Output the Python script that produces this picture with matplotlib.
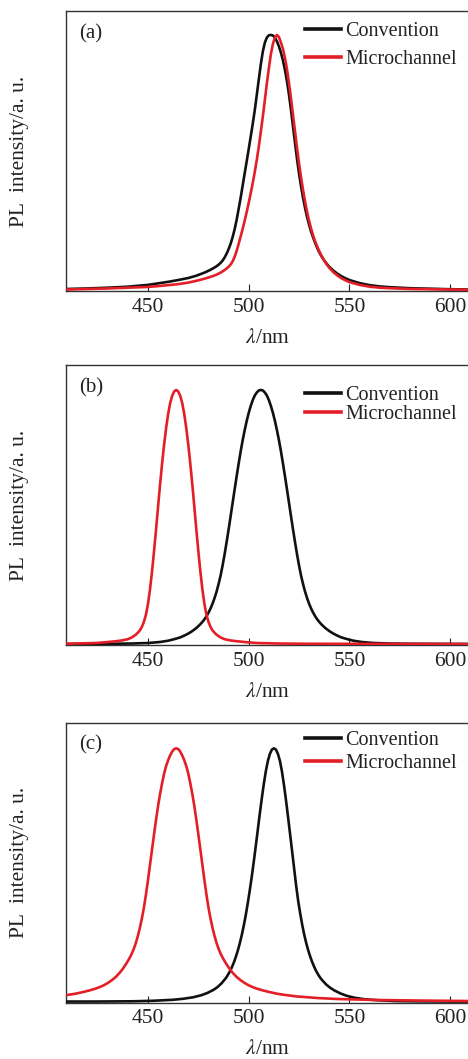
import matplotlib
matplotlib.use('Agg')
import matplotlib.pyplot as plt

# ---- data (wavelength nm, normalised PL intensity) ----
# panel (a)
wl_a_conv = [410, 420, 430, 440, 450, 455, 460, 465, 470, 474, 478, 481, 483, 484,
             485, 486, 487, 488, 489, 490, 491, 492, 493, 494, 495, 496, 497, 498,
             499, 500, 501, 502, 503, 504, 505, 506, 507, 508, 509, 510, 511, 512,
             513, 514, 515, 516, 517, 518, 519, 520, 521, 522, 523, 524, 525, 526,
             527, 528, 529, 530, 531, 532, 533, 534, 535, 536, 537, 538, 539, 540,
             542, 544, 546, 548, 550, 555, 560, 565, 570, 580, 590, 600, 610]
pl_a_conv = [0.004, 0.006, 0.009, 0.013, 0.020, 0.026, 0.032, 0.039, 0.047, 0.056,
             0.068, 0.079, 0.088, 0.093, 0.099, 0.106, 0.115, 0.127, 0.142, 0.160,
             0.181, 0.207, 0.238, 0.275, 0.318, 0.362, 0.410, 0.458, 0.505, 0.553,
             0.602, 0.652, 0.705, 0.765, 0.826, 0.885, 0.935, 0.970, 0.990, 0.999,
             1.000, 0.998, 0.990, 0.975, 0.955, 0.930, 0.900, 0.862, 0.818, 0.765,
             0.705, 0.640, 0.575, 0.512, 0.455, 0.405, 0.360, 0.320, 0.285, 0.255,
             0.228, 0.205, 0.184, 0.165, 0.148, 0.134, 0.121, 0.110, 0.100, 0.091,
             0.076, 0.064, 0.054, 0.046, 0.039, 0.027, 0.019, 0.014, 0.011, 0.007,
             0.005, 0.003, 0.002]

wl_a_micro = [410, 420, 430, 440, 450, 456, 460, 465, 470, 474, 477, 480, 482, 484,
              486, 488, 489, 490, 491, 492, 493, 494, 495, 496, 497, 498, 499, 500,
              501, 502, 503, 504, 505, 506, 507, 508, 509, 510, 511, 512, 513, 514,
              515, 516, 517, 518, 519, 520, 521, 522, 523, 524, 525, 526, 527, 528,
              529, 530, 531, 532, 533, 534, 535, 536, 537, 538, 539, 540, 542, 544,
              546, 548, 550, 555, 560, 565, 570, 580, 590, 600, 610]
pl_a_micro = [0.002, 0.004, 0.006, 0.009, 0.012, 0.016, 0.019, 0.023, 0.029, 0.036,
              0.042, 0.049, 0.054, 0.060, 0.068, 0.078, 0.084, 0.091, 0.100, 0.112,
              0.130, 0.153, 0.181, 0.210, 0.240, 0.272, 0.306, 0.342, 0.380, 0.420,
              0.463, 0.510, 0.562, 0.620, 0.680, 0.745, 0.810, 0.870, 0.925, 0.965,
              0.990, 1.000, 0.992, 0.970, 0.945, 0.910, 0.865, 0.810, 0.750, 0.685,
              0.620, 0.555, 0.495, 0.440, 0.390, 0.345, 0.305, 0.270, 0.240, 0.213,
              0.190, 0.170, 0.152, 0.136, 0.122, 0.109, 0.097, 0.087, 0.070, 0.057,
              0.046, 0.038, 0.031, 0.020, 0.013, 0.009, 0.007, 0.004, 0.003, 0.002,
              0.001]

# panel (b)
wl_b_conv = [410, 431, 442, 450, 456, 460, 463, 466, 468, 470, 472, 474, 476, 477,
             478, 479, 480, 481, 482, 483, 484, 485, 486, 487, 488, 489, 490, 491,
             492, 493, 494, 495, 496, 497, 498, 499, 500, 501, 502, 503, 504, 505,
             506, 507, 508, 509, 510, 511, 512, 513, 514, 515, 516, 517, 518, 519,
             520, 521, 522, 523, 524, 525, 526, 527, 528, 529, 530, 531, 532, 533,
             534, 535, 536, 538, 540, 542, 544, 546, 549, 552, 556, 562, 570, 581, 610]
pl_b_conv = [0.000, 0.001, 0.002, 0.004, 0.008, 0.013, 0.019, 0.026, 0.033, 0.041,
             0.051, 0.063, 0.078, 0.087, 0.097, 0.109, 0.123, 0.139, 0.158, 0.180,
             0.205, 0.235, 0.268, 0.308, 0.352, 0.400, 0.450, 0.502, 0.555, 0.608,
             0.660, 0.710, 0.758, 0.802, 0.842, 0.878, 0.910, 0.937, 0.960, 0.978,
             0.990, 0.998, 1.000, 0.998, 0.990, 0.978, 0.960, 0.937, 0.910, 0.878,
             0.842, 0.802, 0.758, 0.710, 0.660, 0.608, 0.555, 0.502, 0.450, 0.400,
             0.352, 0.308, 0.268, 0.235, 0.205, 0.180, 0.158, 0.139, 0.123, 0.109,
             0.097, 0.087, 0.078, 0.063, 0.051, 0.041, 0.033, 0.026, 0.019, 0.013,
             0.008, 0.004, 0.002, 0.001, 0.000]

wl_b_micro = [410, 414, 424, 429, 434, 437, 440, 442, 444, 445, 446, 447, 448, 449,
              450, 451, 452, 453, 454, 455, 456, 457, 458, 459, 460, 461, 462, 463,
              464, 465, 466, 467, 468, 469, 470, 471, 472, 473, 474, 475, 476, 477,
              478, 479, 480, 481, 482, 483, 484, 486, 488, 491, 494, 499, 504, 514,
              530, 610]
pl_b_micro = [0.001, 0.002, 0.004, 0.007, 0.011, 0.014, 0.019, 0.026, 0.037, 0.045,
              0.054, 0.068, 0.088, 0.116, 0.158, 0.215, 0.285, 0.365, 0.450, 0.540,
              0.628, 0.710, 0.785, 0.850, 0.905, 0.948, 0.977, 0.994, 1.000, 0.994,
              0.977, 0.948, 0.905, 0.850, 0.785, 0.710, 0.628, 0.540, 0.450, 0.365,
              0.285, 0.215, 0.158, 0.116, 0.088, 0.068, 0.054, 0.045, 0.037, 0.026,
              0.019, 0.014, 0.011, 0.007, 0.004, 0.002, 0.001, 0.000]

# panel (c)
wl_c_conv = [410, 422.5, 442.5, 452.5, 462.5, 467.5, 472.5, 476.5, 479.5, 482.5,
             484.5, 486.5, 488.5, 489.5, 490.5, 491.5, 492.5, 493.5, 494.5, 495.5,
             496.5, 497.5, 498.5, 499.5, 500.5, 501.5, 502.5, 503.5, 504.5, 505.5,
             506.5, 507.5, 508.5, 509.5, 510.5, 511.5, 512.5, 513.5, 514.5, 515.5,
             516.5, 517.5, 518.5, 519.5, 520.5, 521.5, 522.5, 523.5, 524.5, 525.5,
             526.5, 527.5, 528.5, 529.5, 530.5, 531.5, 532.5, 533.5, 534.5, 535.5,
             536.5, 538.5, 540.5, 542.5, 545.5, 548.5, 552.5, 557.5, 562.5, 572.5,
             582.5, 602.5, 610]
pl_c_conv = [0.000, 0.000, 0.001, 0.003, 0.007, 0.011, 0.017, 0.025, 0.034, 0.046,
             0.057, 0.072, 0.091, 0.103, 0.117, 0.133, 0.152, 0.174, 0.199, 0.228,
             0.261, 0.298, 0.340, 0.387, 0.438, 0.493, 0.552, 0.614, 0.678, 0.742,
             0.803, 0.860, 0.910, 0.950, 0.978, 0.995, 1.000, 0.995, 0.978, 0.950,
             0.908, 0.855, 0.795, 0.730, 0.663, 0.596, 0.528, 0.460, 0.400, 0.350,
             0.305, 0.266, 0.232, 0.203, 0.178, 0.156, 0.137, 0.120, 0.106, 0.094,
             0.084, 0.067, 0.054, 0.044, 0.032, 0.023, 0.015, 0.009, 0.006, 0.002,
             0.001, 0.000, 0.000]

wl_c_micro = [410, 414, 418, 421, 424, 426, 428, 430, 432, 434, 436, 437, 438, 439,
              440, 441, 442, 443, 444, 445, 446, 447, 448, 449, 450, 451, 452, 453,
              454, 455, 456, 457, 458, 459, 460, 461, 462, 463, 464, 465, 466, 467,
              468, 469, 470, 471, 472, 473, 474, 475, 476, 477, 478, 479, 480, 481,
              482, 483, 484, 485, 486, 487, 488, 489, 490, 491, 492, 494, 496, 498,
              500, 502, 504, 507, 510, 514, 518, 524, 534, 544, 564, 584, 610]
pl_c_micro = [0.026, 0.031, 0.038, 0.044, 0.051, 0.057, 0.064, 0.073, 0.084, 0.097,
              0.114, 0.124, 0.135, 0.147, 0.160, 0.174, 0.190, 0.209, 0.232, 0.260,
              0.292, 0.329, 0.372, 0.423, 0.480, 0.540, 0.600, 0.660, 0.718, 0.772,
              0.820, 0.862, 0.900, 0.930, 0.953, 0.972, 0.987, 0.997, 1.000, 0.997,
              0.987, 0.972, 0.953, 0.930, 0.900, 0.862, 0.820, 0.772, 0.718, 0.660,
              0.600, 0.540, 0.480, 0.423, 0.372, 0.329, 0.292, 0.260, 0.232, 0.209,
              0.190, 0.174, 0.160, 0.147, 0.135, 0.124, 0.114, 0.097, 0.084, 0.073,
              0.064, 0.057, 0.051, 0.044, 0.038, 0.031, 0.026, 0.020, 0.014, 0.010,
              0.006, 0.004, 0.002]

panels = ['(a)', '(b)', '(c)']
series_labels = ['Convention', 'Microchannel']
x_ticks = [450, 500, 550, 600]

plt.rcParams['font.family'] = ['Liberation Serif', 'DejaVu Serif']
plt.rcParams['mathtext.fontset'] = 'stix'

BLACK = '#111111'
RED = '#e41e26'
TEXT = '#222222'

fig = plt.figure(figsize=(4.68, 10.59), dpi=100)

# axes boxes in figure fractions (left, bottom, width, height)
boxes = [(0.141, 0.7252, 0.861, 0.2644),
         (0.141, 0.3909, 0.861, 0.2644),
         (0.141, 0.0533, 0.861, 0.2640)]
ytops = [1.094, 1.098, 1.10]
# legend tweaks per panel: anchor y (axes fraction), row spacing
leg_y = [0.962, 0.927, 0.971]
leg_sp = [0.47, 0.0, 0.2]

data = [(wl_a_conv, pl_a_conv, wl_a_micro, pl_a_micro),
        (wl_b_conv, pl_b_conv, wl_b_micro, pl_b_micro),
        (wl_c_conv, pl_c_conv, wl_c_micro, pl_c_micro)]

for i, (box, (wc, pc, wm, pm)) in enumerate(zip(boxes, data)):
    ax = fig.add_axes(box)
    ax.plot(wc, pc, color=BLACK, lw=1.9, label=series_labels[0], zorder=3,
            solid_joinstyle='round')
    ax.plot(wm, pm, color=RED, lw=1.9, label=series_labels[1], zorder=4,
            solid_joinstyle='round')
    ax.set_xlim(409.3, 609.3)
    ax.set_ylim(-0.004, ytops[i])

    ax.set_xticks(x_ticks)
    ax.set_yticks([])
    ax.tick_params(axis='x', direction='in', length=5, width=0.8, pad=5,
                   labelsize=15.5, colors=TEXT)
    for side in ['left', 'top', 'bottom']:
        ax.spines[side].set_color('#333333')
        ax.spines[side].set_linewidth(1.0)
    ax.spines['right'].set_visible(False)

    ax.set_xlabel(r'$\lambda$/nm', fontsize=15.5, color=TEXT, va='center')
    ax.xaxis.set_label_coords(0.5, -0.168)
    ax.set_ylabel('PL  intensity/a. u.', fontsize=15.5, color=TEXT, va='center')
    ax.yaxis.set_label_coords(-0.115, 0.5)

    ax.text(0.032, 0.92, panels[i], transform=ax.transAxes, fontsize=15,
            color=TEXT, va='center', ha='left')

    leg = ax.legend(loc='upper left', bbox_to_anchor=(0.594, leg_y[i]),
                    frameon=False, fontsize=14.5, handlelength=1.75,
                    handletextpad=0.25, borderpad=0, borderaxespad=0,
                    labelspacing=leg_sp[i])
    for ln in leg.get_lines():
        ln.set_linewidth(2.6)
    for t in leg.get_texts():
        t.set_color(TEXT)

fig.savefig('out.png', dpi=100)
